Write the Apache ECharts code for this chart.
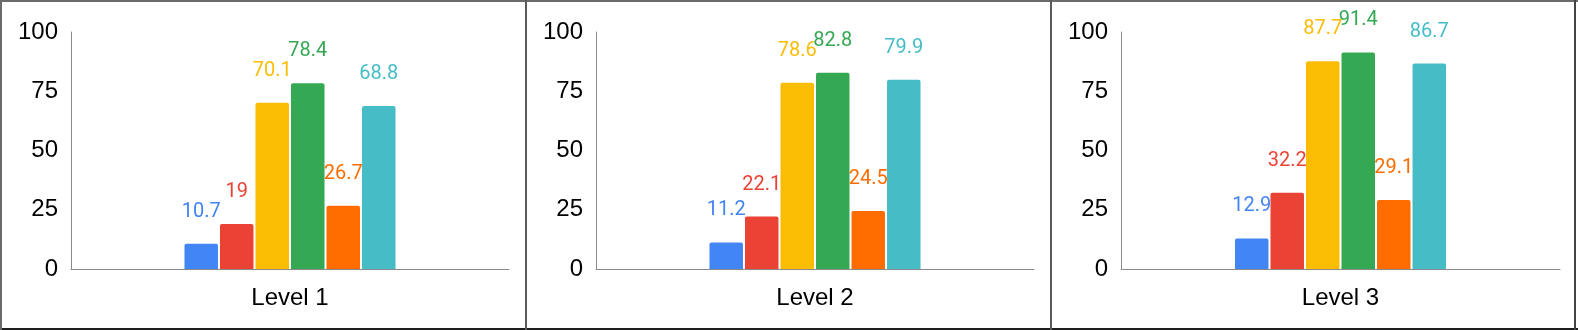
<!DOCTYPE html>
<html>
<head>
<meta charset="utf-8">
<script src="https://cdn.jsdelivr.net/npm/echarts@6/dist/echarts.min.js"></script>
<style>
  html, body { margin: 0; padding: 0; background: #fff; }
  #wrap { position: relative; width: 1578px; height: 330px; overflow: hidden; }
  .panel { position: absolute; top: 0; height: 330px; }
  .line { position: absolute; pointer-events: none; }
</style>
</head>
<body>
<div id="wrap">
  <div id="c0" class="panel" style="left:0;width:526px"></div>
  <div id="c1" class="panel" style="left:526px;width:525px"></div>
  <div id="c2" class="panel" style="left:1051px;width:527px"></div>
  <!-- 外框和分隔线 -->
  <div class="line" style="left:0;top:0;width:1578px;height:2px;background:#6b6b6b"></div>
  <div class="line" style="left:0;top:328px;width:1578px;height:2px;background:#1e1e1e"></div>
  <div class="line" style="left:0;top:0;width:2px;height:330px;background:#6b6b6b"></div>
  <div class="line" style="left:525px;top:0;width:2px;height:330px;background:#5a5a5a"></div>
  <div class="line" style="left:1050px;top:0;width:2px;height:330px;background:#5a5a5a"></div>
  <div class="line" style="left:1574px;top:0;width:2px;height:330px;background:#444"></div>
</div>
<script>
// 数据
const levels = ['Level 1', 'Level 2', 'Level 3'];
const seriesColors = ['#4285F4', '#EA4335', '#FBBC04', '#34A853', '#FF6D01', '#46BDC6'];
const seriesNames = ['A', 'B', 'C', 'D', 'E', 'F'];
const level1Values = [10.7, 19, 70.1, 78.4, 26.7, 68.8];
const level2Values = [11.2, 22.1, 78.6, 82.8, 24.5, 79.9];
const level3Values = [12.9, 32.2, 87.7, 91.4, 29.1, 86.7];
const yTicks = [0, 25, 50, 75, 100];

const panelValues = [level1Values, level2Values, level3Values];
const gridLeft = [71, 70, 70];

panelValues.forEach((values, p) => {
  const chart = echarts.init(document.getElementById('c' + p), null, { renderer: 'canvas' });

  const option = {
    animation: false,
    grid: {
      left: gridLeft[p],
      right: p === 2 ? 18 : 17,
      top: 32,
      bottom: 61,
    },
    xAxis: {
      type: 'category',
      data: [levels[p]],
      axisLine: { lineStyle: { color: '#8a8a8a', width: 1 } },
      axisTick: { show: false },
      axisLabel: {
        color: '#000',
        fontFamily: 'Liberation Sans, Arial, sans-serif',
        fontSize: 24,
        margin: 17,
      },
    },
    yAxis: {
      type: 'value',
      min: yTicks[0],
      max: yTicks[yTicks.length - 1],
      interval: 25,
      axisLine: { show: true, lineStyle: { color: '#8a8a8a', width: 1 } },
      axisTick: { show: false },
      splitLine: { show: false },
      axisLabel: {
        color: '#000',
        fontFamily: 'Liberation Sans, Arial, sans-serif',
        fontSize: 24,
        margin: 13,
      },
    },
    series: values.map((v, i) => ({
      name: seriesNames[i],
      type: 'bar',
      barWidth: 33.5,
      barGap: '6%',
      data: [v],
      itemStyle: {
        color: seriesColors[i],
        borderRadius: [2, 2, 0, 0],
      },
      label: {
        show: true,
        position: 'top',
        distance: 22,
        color: seriesColors[i],
        fontFamily: 'Roboto, sans-serif',
        fontSize: 20,
      },
    })),
  };

  chart.setOption(option);
});
</script>
</body>
</html>
